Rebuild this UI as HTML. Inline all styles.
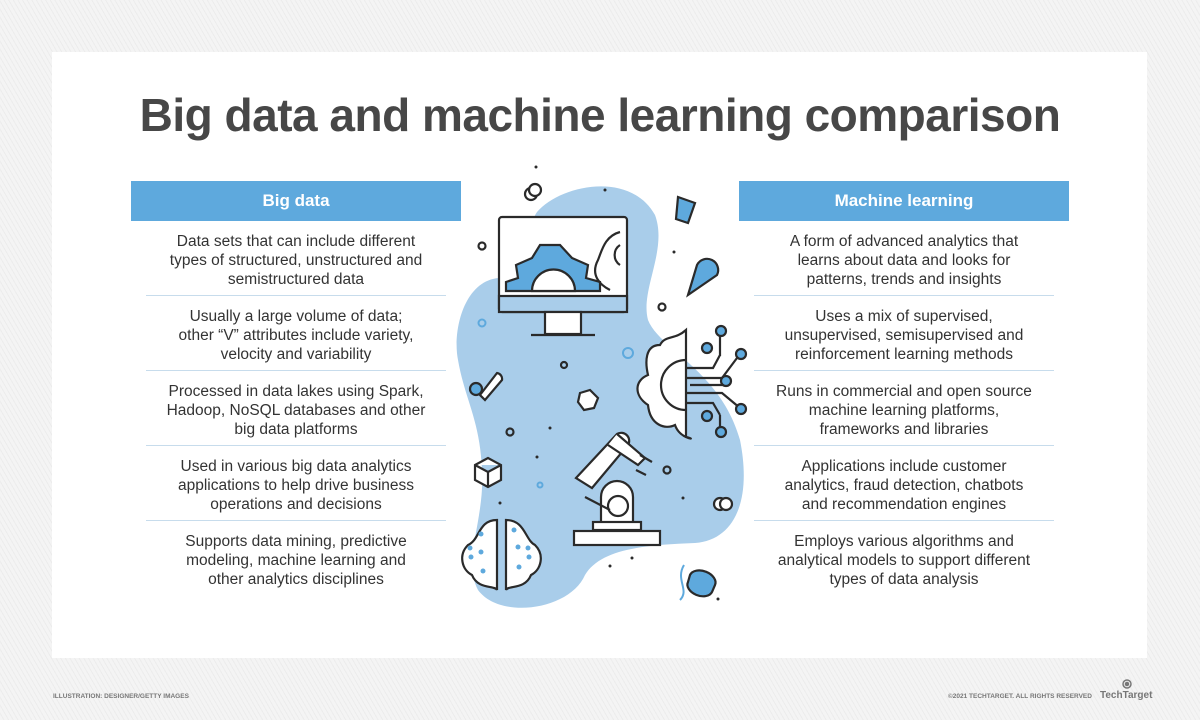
<!DOCTYPE html>
<html><head><meta charset="utf-8"><style>
body{margin:0;width:1200px;height:720px;overflow:hidden;background:#f2f2f2;font-family:"Liberation Sans",sans-serif;position:relative}
.bg{position:absolute;inset:0;background:repeating-linear-gradient(60deg,#f4f4f4 0 3px,#ececec 3px 4px)}
.card{position:absolute;left:52px;top:52px;width:1095px;height:606px;background:#fff}
h1{position:absolute;left:0;width:1200px;top:88px;margin:0;text-align:center;font-size:46px;font-weight:bold;color:#474747;letter-spacing:-0.5px}
.col{position:absolute;top:181px;width:330px}
.hd{height:40px;background:#5ea9dd;color:#fff;font-weight:bold;font-size:17px;text-align:center;line-height:40px}
.row{height:69px;padding-top:5px;margin:0 15px;border-bottom:1px solid #c7dcec;text-align:center;color:#333;font-size:15.5px;line-height:19px;display:flex;align-items:center;justify-content:center}
.row:last-child{border-bottom:none}
.foot{position:absolute;top:693px;font-size:6.5px;color:#777;font-weight:bold}
</style></head><body>
<div class="bg"></div>
<div class="card"></div>
<h1>Big data and machine learning comparison</h1>
<div class="col" style="left:131px"><div class="hd">Big data</div>
<div class="row">Data sets that can include different<br>types of structured, unstructured and<br>semistructured data</div>
<div class="row">Usually a large volume of data;<br>other “V” attributes include variety,<br>velocity and variability</div>
<div class="row">Processed in data lakes using Spark,<br>Hadoop, NoSQL databases and other<br>big data platforms</div>
<div class="row">Used in various big data analytics<br>applications to help drive business<br>operations and decisions</div>
<div class="row">Supports data mining, predictive<br>modeling, machine learning and<br>other analytics disciplines</div></div>
<div class="col" style="left:739px"><div class="hd">Machine learning</div>
<div class="row">A form of advanced analytics that<br>learns about data and looks for<br>patterns, trends and insights</div>
<div class="row">Uses a mix of supervised,<br>unsupervised, semisupervised and<br>reinforcement learning methods</div>
<div class="row">Runs in commercial and open source<br>machine learning platforms,<br>frameworks and libraries</div>
<div class="row">Applications include customer<br>analytics, fraud detection, chatbots<br>and recommendation engines</div>
<div class="row">Employs various algorithms and<br>analytical models to support different<br>types of data analysis</div></div>
<svg style="position:absolute;left:0;top:0" width="1200" height="720">
<path d="M537,212 C560,185 630,170 655,215 C668,250 640,290 648,320 C660,350 720,370 740,440 C752,500 735,540 695,543 C640,545 600,550 585,575 C570,610 500,620 478,590 C462,560 485,520 482,470 C480,420 465,400 458,360 C452,330 465,275 505,278 C520,278 525,230 537,212Z" fill="#a9cdea"/>
<g stroke="#2a2a2a" stroke-width="2.2" fill="none">
<rect x="499" y="217" width="128" height="95" rx="3" fill="#fff"/>
<rect x="499" y="296" width="128" height="16" fill="#a9cdea"/>
<rect x="545" y="312" width="36" height="22" fill="#fff"/>
<line x1="531" y1="335" x2="595" y2="335"/>
<path d="M506,291 L506,282 L518,278 L516,265 L532,258 L540,245 L560,245 L572,258 L588,265 L586,278 L600,282 L600,291 Z" fill="#5ea9dd"/>
<path d="M532,291 A21,21 0 0 1 575,291 Z" fill="#fff"/>
<path d="M620,232 C605,236 602,250 598,260 C590,275 600,285 610,290 M620,245 A12,12 0 0 0 620,265"/>
<circle cx="482" cy="246" r="3.5"/><circle cx="662" cy="307" r="3.5"/><circle cx="510" cy="432" r="3.5"/><circle cx="564" cy="365" r="3"/><circle cx="667" cy="470" r="3.5"/>
<circle cx="531" cy="194" r="6" fill="#fff"/><circle cx="535" cy="190" r="6" fill="#fff"/>
<circle cx="720" cy="504" r="6" fill="#fff"/><circle cx="726" cy="504" r="6" fill="#fff"/>
<path d="M678,197 L695,203 L688,223 L676,219 Z" fill="#5ea9dd"/>
<path d="M688,295 L717,275 A10,10 0 0 0 697,265 Z" fill="#5ea9dd"/>
<path d="M480,395 L497,373 A6,6 0 0 1 502,380 L485,400 Z" fill="#fff"/><circle cx="476" cy="389" r="6" fill="#5ea9dd"/>
<path d="M580,393 L590,390 L598,398 L594,408 L584,410 L578,402 Z" fill="#fff"/>
<path d="M475,465 L488,458 L501,465 L501,480 L488,487 L475,480 Z M475,465 L488,472 L501,465 M488,472 L488,487" fill="#fff"/>
<path d="M686,330 C675,340 665,335 660,345 C645,345 645,362 648,375 C635,380 633,395 648,405 C650,425 665,430 675,425 C680,440 700,440 686,437 L686,330Z" fill="#fff"/>
<path d="M686,360 A25,25 0 0 0 686,410"/>
<path d="M686,368 L713,368 L720,355 M686,378 L722,378 L740,354 M690,385 L725,385 M686,393 L722,393 L740,408 M686,403 L713,403 L720,415 M720,335 L720,356 M720,415 L720,433"/>
<g fill="#5ea9dd"><circle cx="721" cy="331" r="5"/><circle cx="707" cy="348" r="5"/><circle cx="741" cy="354" r="5"/><circle cx="726" cy="381" r="5"/><circle cx="741" cy="409" r="5"/><circle cx="707" cy="416" r="5"/><circle cx="721" cy="432" r="5"/></g>
<path d="M576,478 L617,434 A8,8 0 0 1 628,445 L592,488 Z" fill="#fff"/>
<path d="M617,434 L645,458 L638,465 L608,445" fill="#fff"/>
<path d="M640,455 L652,462 M636,470 L646,475"/>
<path d="M601,497 L601,528 L633,528 L633,497 A16,16 0 0 0 601,497" fill="#fff"/>
<circle cx="618" cy="506" r="10" fill="#fff"/>
<path d="M585,497 L610,510" />
<rect x="593" y="522" width="48" height="8" fill="#fff"/>
<rect x="574" y="531" width="86" height="14" fill="#fff"/>
<path d="M497,520 C478,520 480,540 468,545 C458,555 462,570 472,575 C478,590 495,585 497,590 Z" fill="#fff"/>
<path d="M506,520 C525,520 525,540 535,545 C545,555 541,570 531,575 C525,590 508,585 506,590 Z" fill="#fff"/>
<path d="M690,575 A12,8 20 0 1 715,585 L712,592 A12,8 20 0 1 688,582 Z" fill="#5ea9dd"/>
</g>
<g fill="none" stroke="#5ea9dd" stroke-width="2"><circle cx="482" cy="323" r="3.5"/><circle cx="628" cy="353" r="5"/><circle cx="540" cy="485" r="2.5"/><path d="M684,565 C675,580 690,590 680,600"/></g>
<g fill="#5ea9dd"><circle cx="481" cy="534" r="2.5"/><circle cx="470" cy="548" r="2.5"/><circle cx="481" cy="552" r="2.5"/><circle cx="483" cy="571" r="2.5"/><circle cx="471" cy="557" r="2.5"/><circle cx="514" cy="530" r="2.5"/><circle cx="528" cy="548" r="2.5"/><circle cx="518" cy="547" r="2.5"/><circle cx="519" cy="567" r="2.5"/><circle cx="529" cy="557" r="2.5"/></g>
<g fill="#2a2a2a"><circle cx="536" cy="167" r="1.5"/><circle cx="605" cy="190" r="1.5"/><circle cx="674" cy="252" r="1.5"/><circle cx="550" cy="428" r="1.5"/><circle cx="537" cy="457" r="1.5"/><circle cx="500" cy="503" r="1.5"/><circle cx="683" cy="498" r="1.5"/><circle cx="632" cy="558" r="1.5"/><circle cx="610" cy="566" r="1.5"/><circle cx="718" cy="599" r="1.5"/></g>
<g fill="none" stroke="#777" stroke-width="1.5"><circle cx="1127" cy="684" r="4"/><circle cx="1127" cy="684" r="1.5" fill="#777"/></g>
</svg>
<div class="foot" style="left:53px">ILLUSTRATION: DESIGNER/GETTY IMAGES</div>
<div class="foot" style="left:948px">©2021 TECHTARGET. ALL RIGHTS RESERVED</div>
<div class="foot" style="left:1100px;top:690px;font-size:10px">TechTarget</div>
</body></html>
